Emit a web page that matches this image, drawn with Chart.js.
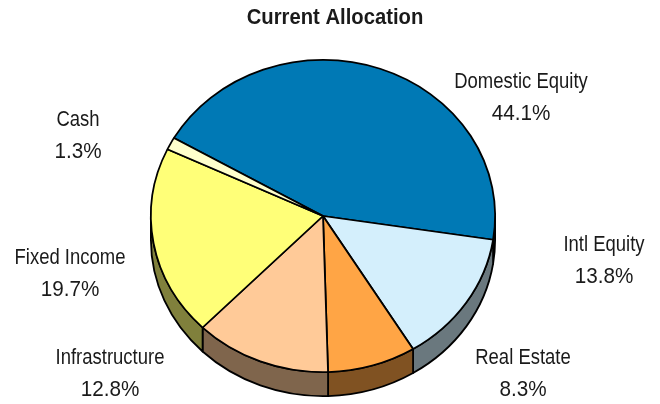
<!DOCTYPE html>
<html>
<head>
<meta charset="utf-8">
<script src="https://cdn.jsdelivr.net/npm/chart.js@4/dist/chart.umd.min.js"></script>
<style>
  html, body { margin: 0; background: #fff; }
</style>
</head>
<body>
<canvas id="allocChart" width="660" height="404"></canvas>
<script>
const categories = ['Domestic Equity', 'Intl Equity', 'Real Estate', 'Infrastructure', 'Fixed Income', 'Cash'];
const allocation = [44.1, 13.8, 8.3, 12.8, 19.7, 1.3];
const pctLabels = ['44.1%', '13.8%', '8.3%', '12.8%', '19.7%', '1.3%'];

const topColors  = ['#0079b5', '#d4effc', '#ffa545', '#ffca98', '#ffff78', '#ffffcc'];
const sideColors = ['#003c5a', '#6a787e', '#805222', '#7f654c', '#80803c', '#80806a'];

// where each slice name sits; the percent goes one line below it
const labelAt = [[521, 82], [604, 245], [523, 358], [110, 358], [70, 258], [78, 120]];

const FONT = "'Liberation Sans', Arial, sans-serif";
const NARROW = 0.84;  // horizontal squeeze for a condensed look
const TILT = 0.907;   // vertical squash of the pie
const DEPTH = 24;     // height of the rim

function narrowText(ctx, text, x, y, sx) {
  ctx.save();
  ctx.translate(x, y);
  ctx.scale(sx, 1);
  ctx.fillText(text, 0, 0);
  ctx.restore();
}

// fake 3d: draw the rim first, then the squashed pie on top of it
const pie3d = {
  id: 'pie3d',
  beforeDatasetsDraw(chart) {
    const ctx = chart.ctx;
    const arcs = chart.getDatasetMeta(0).data;
    const cx = arcs[0].x, cy = arcs[0].y, r = arcs[0].outerRadius, ry = r * TILT;

    ctx.save();
    ctx.lineWidth = 1.8;
    ctx.strokeStyle = '#000';
    ctx.lineJoin = 'round';
    arcs.forEach((arc, i) => {
      const a = Math.max(arc.startAngle, 0);
      const b = Math.min(arc.endAngle, Math.PI);
      if (b <= a) return;
      ctx.beginPath();
      ctx.ellipse(cx, cy, r, ry, 0, a, b);
      ctx.ellipse(cx, cy + DEPTH, r, ry, 0, b, a, true);
      ctx.closePath();
      ctx.fillStyle = sideColors[i];
      ctx.fill();
      ctx.stroke();
    });
    ctx.restore();

    ctx.save();
    ctx.translate(cx, cy);
    ctx.scale(1, TILT);
    ctx.translate(-cx, -cy);
  },
  afterDatasetsDraw(chart) {
    chart.ctx.restore();
  },
  afterDraw(chart) {
    const ctx = chart.ctx;
    ctx.save();
    ctx.fillStyle = '#1a1a1a';
    ctx.textAlign = 'center';
    ctx.textBaseline = 'middle';

    ctx.font = 'bold 22px ' + FONT;
    narrowText(ctx, 'Current Allocation', 335, 18, 0.92);

    ctx.font = '22px ' + FONT;
    categories.forEach((name, i) => {
      const [x, y] = labelAt[i];
      narrowText(ctx, name, x, y, NARROW);
      narrowText(ctx, pctLabels[i], x, y + 32, 0.94);
    });
    ctx.restore();
  }
};

new Chart(document.getElementById('allocChart'), {
  type: 'pie',
  data: {
    labels: categories,
    datasets: [{
      data: allocation,
      backgroundColor: topColors,
      borderColor: '#000',
      borderWidth: 1.8
    }]
  },
  options: {
    responsive: false,
    animation: false,
    rotation: -60,
    layout: { padding: { left: 150, right: 164, top: 43, bottom: 15 } },
    plugins: {
      legend: { display: false },
      tooltip: { enabled: false },
      title: { display: false }
    }
  },
  plugins: [pie3d]
});
</script>
</body>
</html>
